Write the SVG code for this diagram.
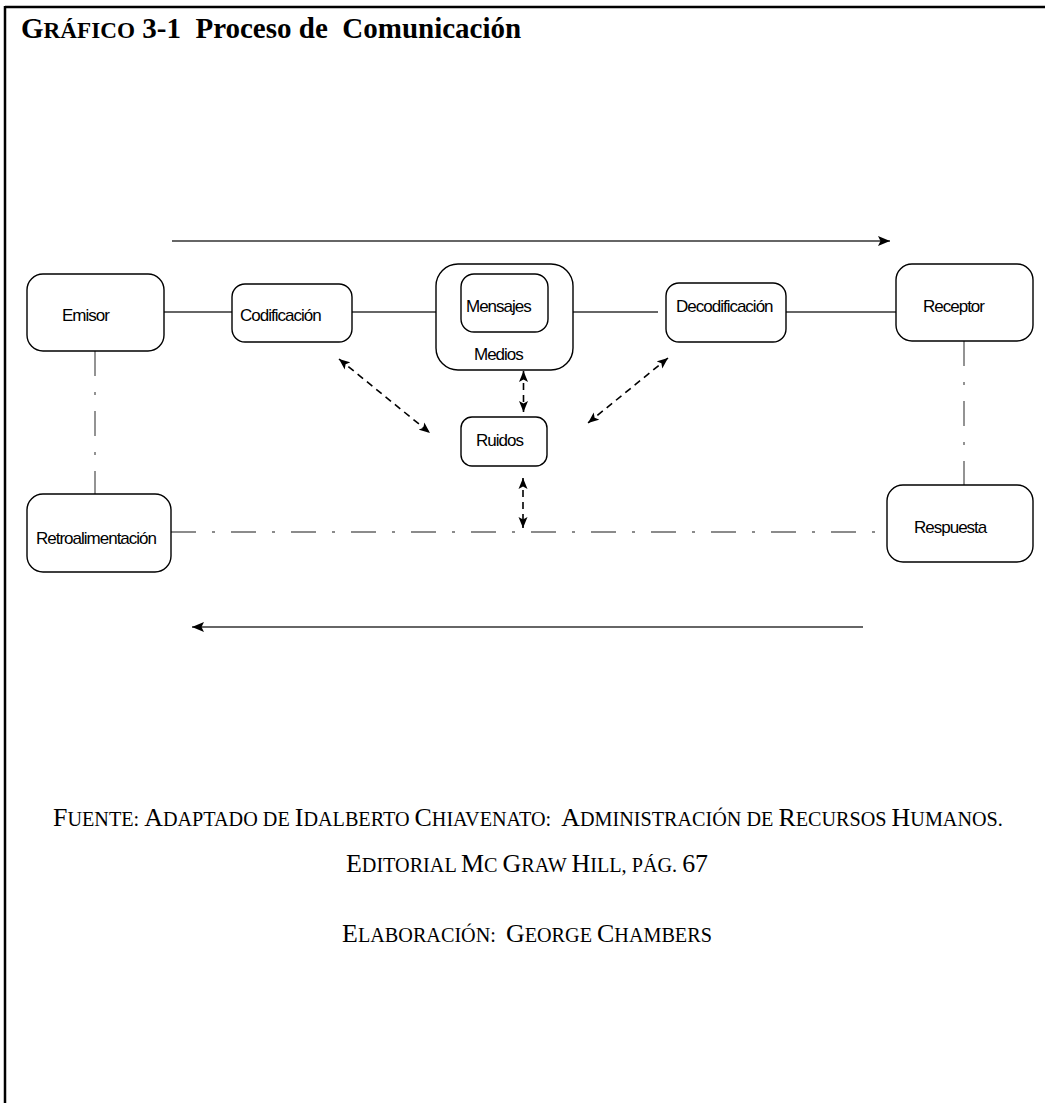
<svg xmlns="http://www.w3.org/2000/svg" width="1045" height="1103" viewBox="0 0 1045 1103">
<style>
.box{fill:#fff;stroke:#000;stroke-width:1.4}
.lbl{font-family:"Liberation Sans",Arial,sans-serif;font-size:17px;letter-spacing:-1px;fill:#000}
.solid{stroke:#333;stroke-width:1.4;fill:none}
.dd{stroke:#666;stroke-width:1.4;fill:none;stroke-dasharray:25 16 3 16}
.dash{stroke:#000;stroke-width:1.6;fill:none;stroke-dasharray:7 5}
.src{font-family:"Liberation Serif","Times New Roman",serif;font-size:20.2px;fill:#000;white-space:pre}
.src .b{font-size:25.9px}
</style>
<defs>
<marker id="ah" markerUnits="userSpaceOnUse" markerWidth="13" markerHeight="11" refX="12" refY="5.5" orient="auto-start-reverse">
<path d="M0,0.5 L12,5.5 L0,10.5 L2.5,5.5 z" fill="#000"/>
</marker>
<marker id="ah2" markerUnits="userSpaceOnUse" markerWidth="12" markerHeight="10" refX="11" refY="5" orient="auto-start-reverse">
<path d="M0,0.5 L11,5 L0,9.5 L2.5,5 z" fill="#000"/>
</marker>
</defs>
<rect width="1045" height="1103" fill="#fff"/>
<g id="frame">
<line x1="5" y1="7" x2="1045" y2="7" stroke="#000" stroke-width="2.5"/>
<line x1="5" y1="6" x2="5" y2="1103" stroke="#000" stroke-width="2.5"/>
</g>
<g id="title">
<text x="21" y="38" xml:space="preserve" style="white-space:pre" font-family="'Liberation Serif','Times New Roman',serif" font-weight="bold" font-size="29" fill="#000">G<tspan font-size="23.2">RÁFICO</tspan> 3-1  Proceso de  Comunicación</text>
</g>
<g id="connectors">
<line class="solid" x1="172" y1="241" x2="890" y2="241" marker-end="url(#ah)"/>
<line class="solid" x1="863" y1="627" x2="192" y2="627" marker-end="url(#ah)"/>
<line class="solid" x1="164" y1="312" x2="232" y2="312"/>
<line class="solid" x1="352" y1="312" x2="436" y2="312"/>
<line class="solid" x1="573" y1="312" x2="658" y2="312"/>
<line class="solid" x1="786" y1="312" x2="896" y2="312"/>
<line class="dd" x1="95" y1="351" x2="95" y2="494"/>
<line class="dd" x1="964" y1="341" x2="964" y2="485"/>
<line class="dd" x1="171" y1="532" x2="887" y2="532"/>
<line class="dash" x1="339" y1="359" x2="430" y2="433" marker-start="url(#ah2)" marker-end="url(#ah2)"/>
<line class="dash" x1="523.5" y1="371" x2="523.5" y2="412" marker-start="url(#ah2)" marker-end="url(#ah2)"/>
<line class="dash" x1="668" y1="358" x2="588" y2="423" marker-start="url(#ah2)" marker-end="url(#ah2)"/>
<line class="dash" x1="523" y1="478" x2="523" y2="528" marker-start="url(#ah2)" marker-end="url(#ah2)"/>
</g>
<g id="emisor">
<rect class="box" x="27" y="274" width="137" height="77" rx="16"/>
<text class="lbl" x="62" y="321">Emisor</text>
</g>
<g id="codificacion">
<rect class="box" x="232" y="284" width="120" height="58" rx="13"/>
<text class="lbl" x="240" y="321">Codificación</text>
</g>
<g id="medios">
<rect class="box" x="436" y="264" width="137" height="106" rx="22"/>
<text class="lbl" x="474" y="360">Medios</text>
</g>
<g id="mensajes">
<rect class="box" x="461" y="274" width="87" height="58" rx="13"/>
<text class="lbl" x="466" y="312">Mensajes</text>
</g>
<g id="decodificacion">
<rect class="box" x="666" y="283" width="120" height="59" rx="13"/>
<text class="lbl" x="676" y="312">Decodificación</text>
</g>
<g id="receptor">
<rect class="box" x="896" y="264" width="137" height="77" rx="16"/>
<text class="lbl" x="923" y="312">Receptor</text>
</g>
<g id="ruidos">
<rect class="box" x="461" y="417" width="86" height="49" rx="11"/>
<text class="lbl" x="476" y="446">Ruidos</text>
</g>
<g id="retroalimentacion">
<rect class="box" x="27" y="494" width="144" height="78" rx="16"/>
<text class="lbl" x="36" y="544">Retroalimentación</text>
</g>
<g id="respuesta">
<rect class="box" x="887" y="485" width="146" height="77" rx="16"/>
<text class="lbl" x="914" y="533">Respuesta</text>
</g>
<g id="source">
<text class="src" x="53" y="826" xml:space="preserve"><tspan class="b">F</tspan>UENTE: <tspan class="b">A</tspan>DAPTADO DE <tspan class="b">I</tspan>DALBERTO <tspan class="b">C</tspan>HIAVENATO:  <tspan class="b">A</tspan>DMINISTRACIÓN DE <tspan class="b">R</tspan>ECURSOS <tspan class="b">H</tspan>UMANOS.</text>
<text class="src" x="527" y="872" text-anchor="middle" xml:space="preserve"><tspan class="b">E</tspan>DITORIAL <tspan class="b">M</tspan>C <tspan class="b">G</tspan>RAW <tspan class="b">H</tspan>ILL, PÁG. <tspan class="b">67</tspan></text>
<text class="src" x="527" y="942" text-anchor="middle" xml:space="preserve"><tspan class="b">E</tspan>LABORACIÓN:  <tspan class="b">G</tspan>EORGE <tspan class="b">C</tspan>HAMBERS</text>
</g>
</svg>
